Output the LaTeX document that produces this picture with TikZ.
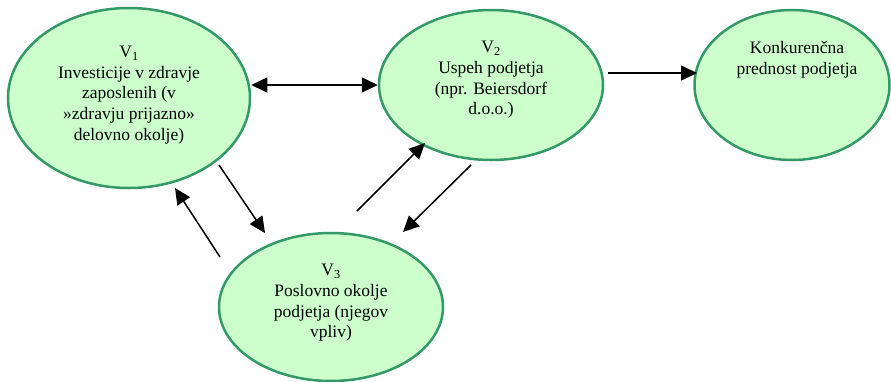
\documentclass[tikz,border=0pt]{standalone}
\usepackage{fontspec}
\setmainfont{Liberation Serif}
\usetikzlibrary{shapes.geometric,arrows.meta}
\definecolor{ovalfill}{HTML}{CCFFCC}
\definecolor{ovalrim}{HTML}{339966}

\begin{document}
\begin{tikzpicture}[
    x=1pt, y=-1pt,
    oval/.style={ellipse, draw=ovalrim, fill=ovalfill, line width=2.5pt, inner sep=0pt},
    txt/.style={align=center, font=\fontsize{17.5}{20.7}\selectfont},
    arr/.style={-{Triangle[length=16pt,width=15pt]}, line width=1.5pt},
    dblarr/.style={{Triangle[length=16pt,width=15pt]}-{Triangle[length=16pt,width=15pt]}, line width=1.5pt}
    ]
    \useasboundingbox (0,0) rectangle (891,381);

    \node[oval, minimum width=242pt, minimum height=180pt] (V1) at (129,98) {};
    \node[oval, minimum width=224pt, minimum height=150pt] (V2) at (491,85) {};
    \node[oval, minimum width=195pt, minimum height=150pt] (K) at (792,85) {};
    \node[oval, minimum width=224pt, minimum height=148pt] (V3) at (331,307) {};

    \node[txt] (T1) at (129,95) {V\textsubscript{1}\\Investicije v zdravje\\zaposlenih (v\\»zdravju prijazno»\\delovno okolje)};
    \node[txt] (T2) at (491,80) {V\textsubscript{2}\\Uspeh podjetja\\(npr. Beiersdorf\\d.o.o.)};
    \node[txt] (TK) at (797,60) {Konkurenčna\\prednost podjetja};
    \node[txt] (T3) at (331,303) {V\textsubscript{3}\\Poslovno okolje\\podjetja (njegov\\vpliv)};

    \coordinate (a13) at (219,165);  \coordinate (b13) at (265,233);
    \coordinate (a31) at (220,257);  \coordinate (b31) at (175,188);
    \coordinate (a32) at (357,211);  \coordinate (b32) at (425,143);
    \coordinate (a23) at (471,165);  \coordinate (b23) at (403,232);
    \coordinate (a2k) at (608,73);   \coordinate (b2k) at (697,73);

    \draw[dblarr] (V1.east |- V2.west) -- (V2.west);
    \draw[arr] (a2k) -- (b2k);
    \draw[arr] (a13) -- (b13);
    \draw[arr] (a31) -- (b31);
    \draw[arr] (a32) -- (b32);
    \draw[arr] (a23) -- (b23);

\end{tikzpicture}
\end{document}
